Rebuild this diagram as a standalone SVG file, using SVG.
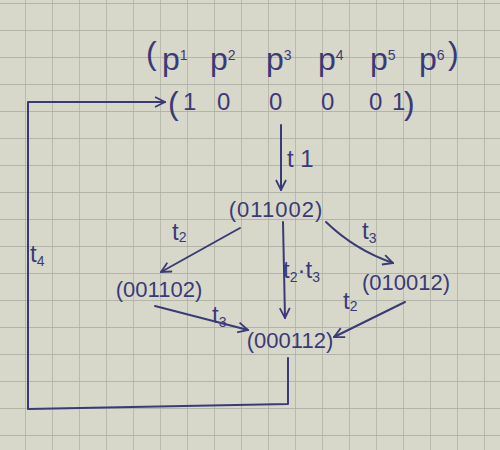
<svg xmlns="http://www.w3.org/2000/svg" width="500" height="450" viewBox="0 0 500 450">
<style>
.ink{fill:none;stroke:#3b3a78;stroke-width:2;stroke-linecap:round;stroke-linejoin:round}
.t{font-family:"Liberation Sans",Arial,sans-serif;fill:#3b3a78;font-size:24px}
.n{font-family:"Liberation Sans",Arial,sans-serif;fill:#3b3a78;font-size:22px}
.p{font-family:"Liberation Sans",Arial,sans-serif;fill:#3b3a78;font-size:32px}
.s{font-size:14px;fill:#3b3a78}
</style>
<defs>
<pattern id="grid" width="27" height="27" patternUnits="userSpaceOnUse" x="-2" y="3">
<path d="M0 0H27M0 0V27" fill="none" stroke="#a9aaa0" stroke-width="1.3"/>
</pattern>
<marker id="ah" viewBox="0 0 12 12" refX="11" refY="6" markerWidth="12" markerHeight="12" markerUnits="userSpaceOnUse" orient="auto">
<path d="M1 1L11 6L1 11" fill="none" stroke="#3b3a78" stroke-width="1.8"/>
</marker>
</defs>
<rect width="500" height="450" fill="#d7d8c9"/>
<rect width="500" height="450" fill="url(#grid)"/>

<g id="header">
<text class="p" x="146" y="64" font-size="40">(</text>
<text class="p" x="162" y="70">p<tspan class="s" dy="-10">1</tspan></text>
<text class="p" x="210" y="70">p<tspan class="s" dy="-10">2</tspan></text>
<text class="p" x="266" y="70">p<tspan class="s" dy="-10">3</tspan></text>
<text class="p" x="318" y="70">p<tspan class="s" dy="-10">4</tspan></text>
<text class="p" x="370" y="70">p<tspan class="s" dy="-10">5</tspan></text>
<text class="p" x="419" y="70">p<tspan class="s" dy="-10">6</tspan></text>
<text class="p" x="448" y="64" font-size="40">)</text>
</g>

<g id="m0">
<text class="p" x="168" y="114" font-size="36">(</text>
<text class="t" x="183" y="110">1</text>
<text class="t" x="217" y="110">0</text>
<text class="t" x="269" y="110">0</text>
<text class="t" x="321" y="110">0</text>
<text class="t" x="369" y="110">0</text>
<text class="t" x="392" y="110">1</text>
<text class="p" x="404" y="114" font-size="36">)</text>
</g>

<g id="m1"><text class="n" x="276" y="217" text-anchor="middle" font-size="25" letter-spacing="1">(011002)</text></g>
<g id="m2"><text class="n" x="159" y="297" text-anchor="middle">(001102)</text></g>
<g id="m3"><text class="n" x="406" y="290" text-anchor="middle">(010012)</text></g>
<g id="m4"><text class="n" x="290" y="348" text-anchor="middle">(000112)</text></g>

<g id="connectors">
<path class="ink" d="M281 125V190" marker-end="url(#ah)"/>
<path class="ink" d="M240 228L161 272" marker-end="url(#ah)"/>
<path class="ink" d="M326 222Q355 250 393 263" marker-end="url(#ah)"/>
<path class="ink" d="M283 222L285 318" marker-end="url(#ah)"/>
<path class="ink" d="M155 306L248 330" marker-end="url(#ah)"/>
<path class="ink" d="M405 302L334 337" marker-end="url(#ah)"/>
<path class="ink" d="M288 358V404L28 409V102H165" marker-end="url(#ah)"/>
</g>

<g id="labels">
<text class="t" x="287" y="167">t 1</text>
<text class="t" x="172" y="240">t<tspan class="s" dy="2">2</tspan></text>
<text class="t" x="362" y="239">t<tspan class="s" dy="4">3</tspan></text>
<text class="t" x="283" y="278">t<tspan class="s" dy="4">2</tspan><tspan dy="-4">·t</tspan><tspan class="s" dy="4">3</tspan></text>
<text class="t" x="212" y="323">t<tspan class="s" dy="4">3</tspan></text>
<text class="t" x="343" y="309">t<tspan class="s" dy="2">2</tspan></text>
<text class="t" x="30" y="262" font-size="30">t<tspan class="s" dy="4">4</tspan></text>
</g>
</svg>
